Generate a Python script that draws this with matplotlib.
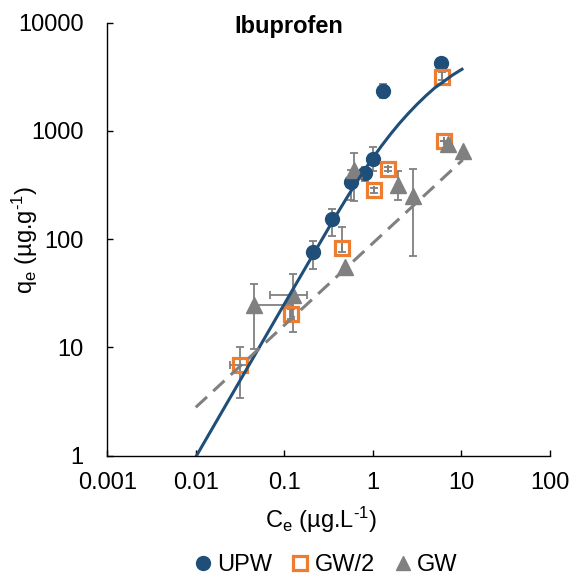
import numpy as np
import matplotlib
matplotlib.use('Agg')
import matplotlib.pyplot as plt
from matplotlib.lines import Line2D

plt.rcParams['font.family'] = ['Liberation Sans', 'DejaVu Sans']
plt.rcParams['mathtext.default'] = 'regular'

# UPW data (circles)
upw_c = [0.211, 0.346, 0.567, 0.818, 1.005, 1.32, 5.90]
upw_q = [76.5, 153, 339, 406, 548, 2349, 4276]
upw_lo = [23, 45, 111, 60, 120, 350, 200]
upw_hi = [20, 35, 100, 60, 158, 350, 200]

# GW/2 data (open squares)
gw2_c = [0.0315, 0.119, 0.449, 1.03, 1.49, 6.05, 6.38]
gw2_q = [6.89, 20.3, 83.4, 282, 442, 3170, 805]
gw2_lo = [3.45, 2.1, 7, 15, 20, 200, 0]
gw2_hi = [3.3, 2.3, 45, 15, 20, 355, 0]
gw2_xlo = [0.0071, 0.004, 0, 0, 0, 0, 0]
gw2_xhi = [0.0075, 0.004, 0, 0, 0, 0, 0]

# GW data (triangles)
gw_c = [0.0455, 0.125, 0.485, 0.614, 1.93, 2.85, 7.08, 10.4]
gw_q = [24.4, 30.2, 55.5, 433, 314, 248, 755, 650]
gw_lo = [14.8, 16.4, 0, 210, 86, 178, 0, 0]
gw_hi = [14.2, 17.6, 0, 190, 110, 195, 0, 0]
gw_xlo = [0, 0.056, 0, 0, 0, 0, 0, 0]
gw_xhi = [0.0765, 0.057, 0, 0, 0, 0, 0, 0]

# fitted curves
fit_upw_c = [0.0102, 0.1, 0.316, 0.398, 0.501, 0.631, 0.794, 1.0, 1.259, 1.585,
             1.995, 2.512, 3.162, 3.981, 5.012, 6.31, 7.943, 10.2]
fit_upw_q = [1.0, 25.1, 126, 173, 236, 319, 427, 562, 729, 931,
             1170, 1445, 1758, 2109, 2495, 2851, 3273, 3715]
fit_gw_c = [0.01, 10.4]
fit_gw_q = [2.8, 540]

blue = '#1f4e79'
orange = '#ed7d31'
grey = '#808080'

fig = plt.figure(figsize=(5.75, 5.81), dpi=100)
ax = fig.add_axes([0.1866, 0.2157, 0.7694, 0.7453])
ax.set_xscale('log')
ax.set_yscale('log')

ekw = dict(fmt='none', ecolor=grey, elinewidth=1.3, capsize=3, capthick=1.3, zorder=2)
ax.errorbar(upw_c, upw_q, yerr=[upw_lo, upw_hi], **ekw)
ax.errorbar(gw2_c, gw2_q, yerr=[gw2_lo, gw2_hi], xerr=[gw2_xlo, gw2_xhi], **ekw)
ax.errorbar(gw_c, gw_q, yerr=[gw_lo, gw_hi], xerr=[gw_xlo, gw_xhi], **ekw)

ax.plot(upw_c, upw_q, 'o', color=blue, ms=10, zorder=3)
ax.plot(gw2_c, gw2_q, 's', mfc='none', mec=orange, mew=2.3, ms=10, zorder=3)
ax.plot(gw_c, gw_q, '^', color=grey, ms=11, zorder=4)

ax.plot(fit_upw_c, fit_upw_q, '-', color=blue, lw=2.2, zorder=5)
ax.plot(fit_gw_c, fit_gw_q, '--', color=grey, lw=2.2, dashes=(5, 2.8), zorder=5)

ax.set_xlim(0.001, 100)
ax.set_ylim(1, 10000)
ax.set_xticks([0.001, 0.01, 0.1, 1, 10, 100])
ax.set_xticklabels(['0.001', '0.01', '0.1', '1', '10', '100'])
ax.set_yticks([1, 10, 100, 1000, 10000])
ax.set_yticklabels(['1', '10', '100', '1000', '10000'])
ax.minorticks_off()
ax.tick_params(axis='x', direction='in', length=4, width=1, labelsize=17, pad=12)
ax.tick_params(axis='y', direction='in', length=4, width=1, labelsize=17, pad=17)
for s in ['top', 'right']:
    ax.spines[s].set_visible(False)
for s in ['left', 'bottom']:
    ax.spines[s].set_linewidth(1)

fig.text(289/575, 1-26/581, 'Ibuprofen', fontsize=17, fontweight='bold', ha='center', va='center')
fig.text(321/575, 1-520/581, 'C$_{e}$ (µg.L$^{\u20101}$)', fontsize=17, ha='center', va='center')
fig.text(25/575, 1-240/581, 'q$_{e}$ (µg.g$^{\u20101}$)', fontsize=17, ha='center', va='center', rotation=90)

handles = [Line2D([], [], ls='none', marker='o', color=blue, ms=10),
           Line2D([], [], ls='none', marker='s', mfc='none', mec=orange, mew=2.3, ms=10),
           Line2D([], [], ls='none', marker='^', color=grey, ms=10)]
fig.legend(handles, ['UPW', 'GW/2', 'GW'], loc='center', bbox_to_anchor=(0.564, 1-565/581),
           ncol=3, frameon=False, fontsize=17, handletextpad=0.1, columnspacing=0.7, handlelength=1.0)

fig.savefig('out.png', dpi=100)
